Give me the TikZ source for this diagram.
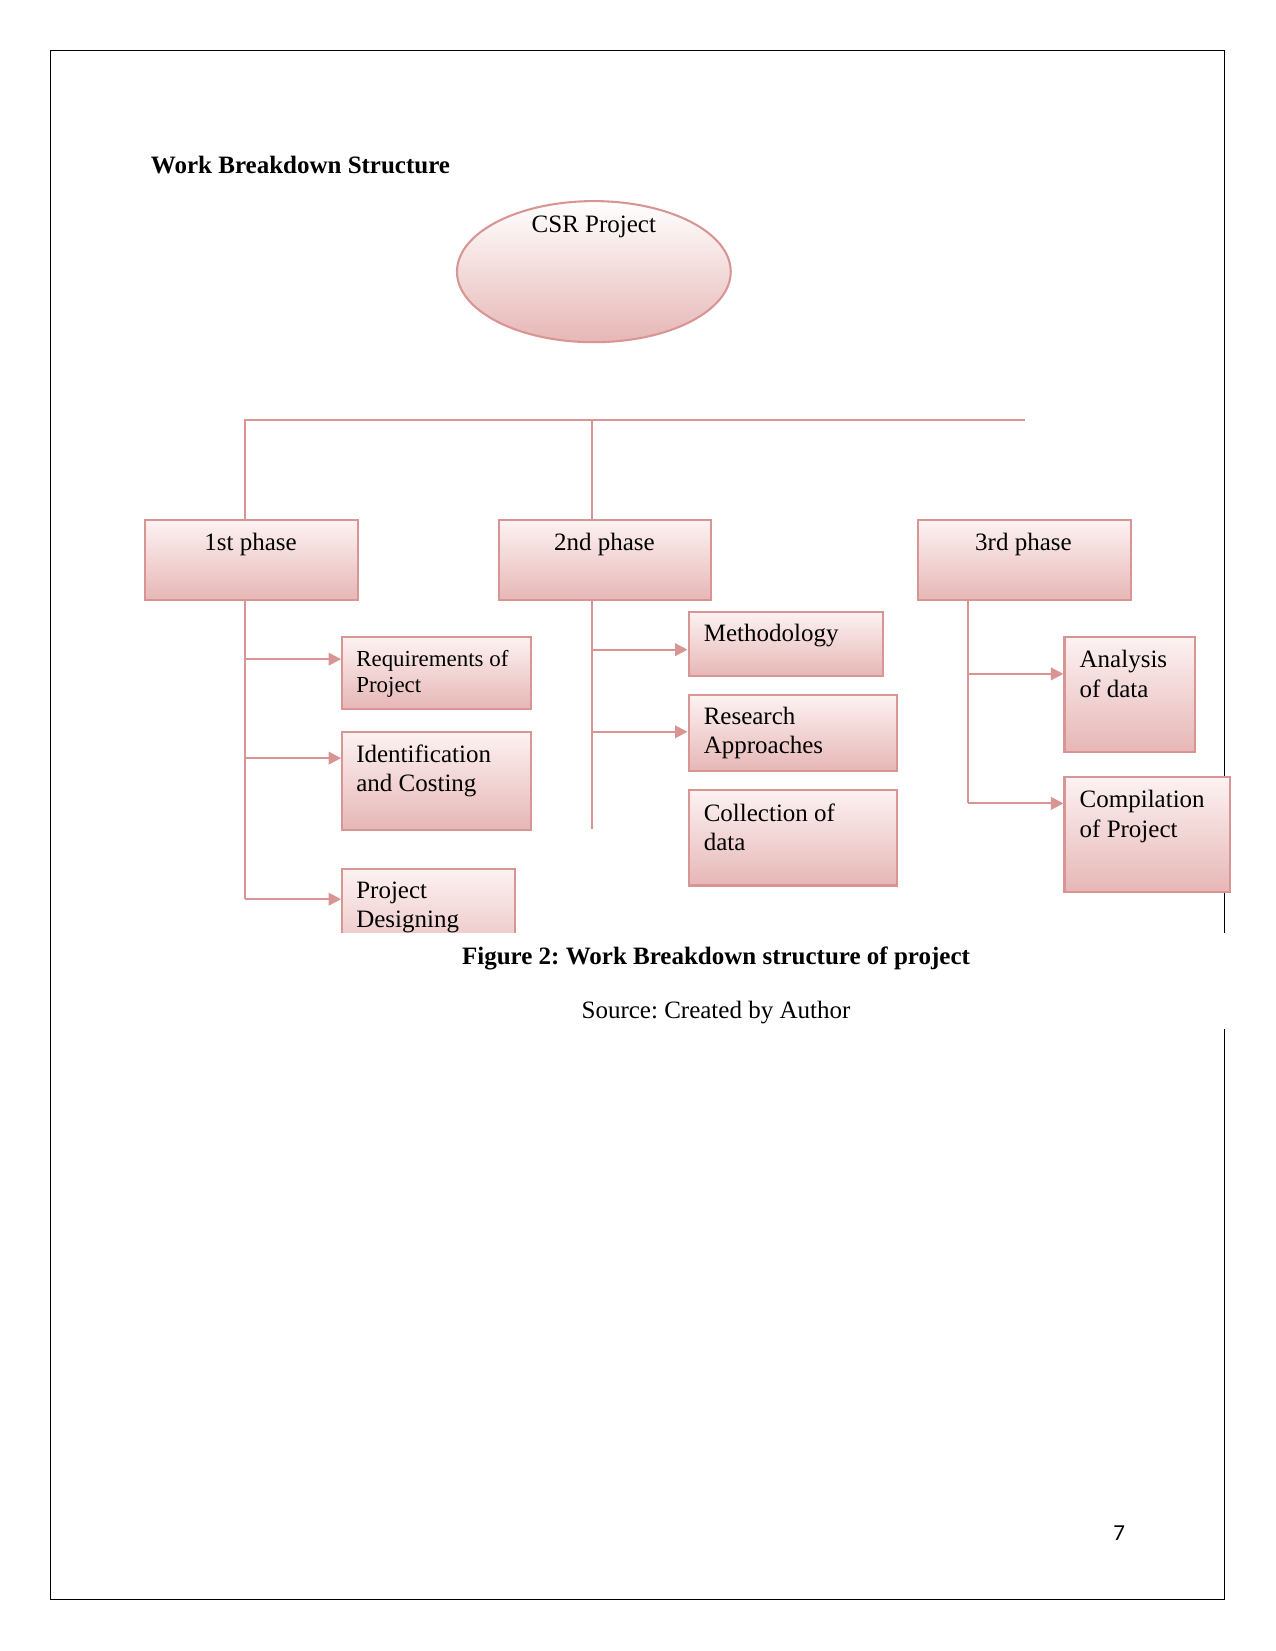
\documentclass[tikz,border=0pt]{standalone}
\usepackage{fontspec}
\setmainfont{Liberation Serif}
\newfontfamily\pagenumfont{Carlito}
\usetikzlibrary{arrows.meta,shapes.geometric}
\newcommand\pxu{0.5054pt}
\definecolor{linecol}{RGB}{217,149,148}
\definecolor{shtop}{RGB}{253,242,242}
\definecolor{shbot}{RGB}{230,183,182}
\tikzset{
  conn/.style={draw=linecol, line width=1pt},
  arr/.style={conn, -{Triangle[length=6pt,width=6pt]}},
  wbox/.style={rectangle, draw=linecol, line width=1pt, top color=shtop, bottom color=shbot, inner sep=0pt, anchor=north west},
  txt/.style={inner sep=0pt, font=\fontsize{12}{14}\selectfont, align=left},
}
\begin{document}
\frenchspacing
\begin{tikzpicture}[x=0.5054pt, y=-0.5054pt]
\useasboundingbox (0,0) rectangle (1211,1568);
% page border
\draw[black, line width=0.8pt] (1163,886) -- (1163,48) -- (48,48) -- (48,1519) -- (1163,1519) -- (1163,977);
% title
\node[inner sep=0pt, anchor=base west, font=\fontsize{12}{14}\selectfont\bfseries] (title) at (143,165) {Work Breakdown Structure};
% root ellipse
\node[ellipse, draw=linecol, line width=1pt, top color=white, bottom color=shbot, minimum width=260*\pxu, minimum height=134*\pxu, inner sep=0pt] (root) at (564,258) {};
\node[txt, anchor=base] (rootT) at (564,221) {CSR Project};
% phases
\node[wbox, minimum width=202*\pxu, minimum height=76*\pxu] (p1) at (137,493) {};
\node[wbox, minimum width=201*\pxu, minimum height=76*\pxu] (p2) at (473,493) {};
\node[wbox, minimum width=202*\pxu, minimum height=76*\pxu] (p3) at (871,493) {};
\node[txt, anchor=base] (p1T) at (238,523) {1st phase};
\node[txt, anchor=base] (p2T) at (574,523) {2nd phase};
\node[txt, anchor=base] (p3T) at (972,523) {3rd phase};
% bus
\coordinate (busL) at (233,399);
\coordinate (busM) at (562,399);
\coordinate (busR) at (973,399);
\coordinate (t1) at (233,854);
\coordinate (t2) at (562,787);
\coordinate (t3) at (919,763);
\draw[conn] (busL |- p1.north) -- (busL) -- (busR);
\draw[conn] (busM) -- (busM |- p2.north);
% 1st phase children
\node[wbox, minimum width=179*\pxu, minimum height=68*\pxu] (req) at (324,604) {};
\node[txt, anchor=base west, font=\fontsize{11}{12.6}\selectfont] (reqT) at (338,658) {Requirements of\\Project};
\node[wbox, minimum width=179*\pxu, minimum height=93*\pxu] (ident) at (324,694) {};
\node[txt, anchor=base west] (identT) at (338,752) {Identification\\and Costing};
\begin{scope}
\clip (0,0) rectangle (1211,886);
\node[wbox, minimum width=164*\pxu, minimum height=100*\pxu] (design) at (324,824) {};
\node[txt, anchor=base west] (designT) at (338,881) {Project\\Designing};
\end{scope}
\draw[conn] (t1 |- p1.south) -- (t1);
\draw[arr] (t1 |- 0,626) -- (req.west |- 0,626);
\draw[arr] (t1 |- 0,720) -- (ident.west |- 0,720);
\draw[arr] (t1) -- (design.west |- t1);
% 2nd phase children
\node[wbox, minimum width=185*\pxu, minimum height=61*\pxu] (meth) at (653,580) {};
\node[txt, anchor=base west] (methT) at (668,609) {Methodology};
\node[wbox, minimum width=198*\pxu, minimum height=72*\pxu] (resa) at (653,659) {};
\node[txt, anchor=base west] (resaT) at (668,716) {Research\\Approaches};
\node[wbox, minimum width=198*\pxu, minimum height=91*\pxu] (coll) at (653,749) {};
\node[txt, anchor=base west] (collT) at (668,808) {Collection of\\data};
\draw[conn] (t2 |- p2.south) -- (t2);
\draw[arr] (t2 |- 0,617) -- (meth.west |- 0,617);
\draw[arr] (t2 |- 0,695) -- (resa.west |- 0,695);
% 3rd phase children
\node[wbox, minimum width=124*\pxu, minimum height=109*\pxu] (anal) at (1010,604) {};
\node[txt, anchor=base west] (analT) at (1025,662) {Analysis\\of data};
\node[wbox, minimum width=157*\pxu, minimum height=109*\pxu] (comp) at (1010,737) {};
\node[txt, anchor=base west] (compT) at (1025,795) {Compilation\\of Project};
\draw[conn] (t3 |- p3.south) -- (t3);
\draw[arr] (t3 |- 0,640) -- (anal.west |- 0,640);
\draw[arr] (t3) -- (comp.west |- t3);
% captions
\node[inner sep=0pt, anchor=base, font=\fontsize{12}{14}\selectfont\bfseries] (cap) at (680,916) {Figure 2: Work Breakdown structure of project};
\node[inner sep=0pt, anchor=base, font=\fontsize{12}{14}\selectfont] (src) at (680,967) {Source: Created by Author};
\node[inner sep=0pt, anchor=base, font=\pagenumfont\fontsize{11}{13}\selectfont] (pnum) at (1063,1463) {7};
\end{tikzpicture}
\end{document}
